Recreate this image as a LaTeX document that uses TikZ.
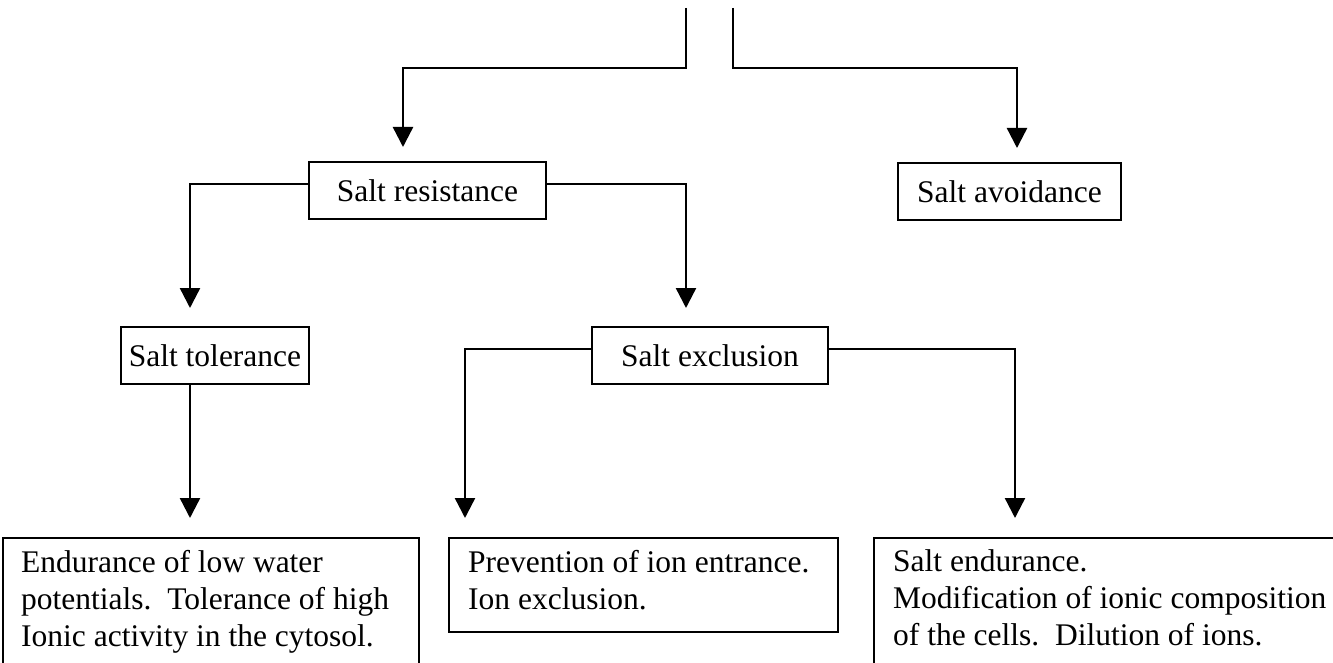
\documentclass[tikz,border=0pt]{standalone}
\usepackage{fontspec}
\setmainfont{Liberation Serif}
\usetikzlibrary{arrows.meta}
\begin{document}
\begin{tikzpicture}[x=1pt,y=-1pt,
  txt/.style={font=\fontsize{31.5}{37}\selectfont},
  box/.style={draw,line width=2pt,inner sep=0pt,anchor=north west,txt},
  para/.style={inner sep=0pt,anchor=base west,align=left,txt},
  conn/.style={line width=2.4pt},
  arr/.style={conn,-{Triangle[width=20pt,length=20pt]}}]
\clip (0,0) rectangle (1333,663);
\fill[white] (0,0) rectangle (1333,663);
% boxes
\node[box,minimum width=237pt,minimum height=57pt] (res) at (308,161) {Salt resistance};
\node[box,minimum width=223pt,minimum height=57pt] (avoid) at (897,162) {Salt avoidance};
\node[box,minimum width=188pt,minimum height=57pt] (tol) at (120,326) {Salt tolerance};
\node[box,minimum width=236pt,minimum height=57pt] (excl) at (591,326) {Salt exclusion};
\node[box,minimum width=416pt,minimum height=180pt] (b1) at (2,537) {};
\node[box,minimum width=389pt,minimum height=94pt] (b2) at (448,537) {};
\node[box,minimum width=500pt,minimum height=180pt] (b3) at (873,537) {};
\node[para] (t1) at (21,646) {Endurance of low water\\potentials.\ \ Tolerance of high\\Ionic activity in the cytosol.};
\node[para] (t2) at (468,609) {Prevention of ion entrance.\\Ion exclusion.};
\node[para] (t3) at (893,645) {Salt endurance.\\Modification of ionic composition\\of the cells.\ \ Dilution of ions.};
% connector points
\coordinate (s1) at (686,8);
\coordinate (s2) at (733,8);
\coordinate (ra) at (403,147);
\coordinate (aa) at (1017,148);
\coordinate (ta) at (190,308);
\coordinate (ea) at (686,308);
\coordinate (b1a) at (190,518);
\coordinate (b2a) at (465,518);
\coordinate (b3a) at (1015,518);
% connectors
\draw[arr] (s1) -- ++(0,60) -| (ra);
\draw[arr] (s2) -- ++(0,60) -| (aa);
\draw[arr] ([yshift=6.5pt]res.west) -| (ta);
\draw[arr] ([yshift=6.5pt]res.east) -| (ea);
\draw[arr] (tol.south -| ta) -- (b1a);
\draw[arr] ([yshift=6.5pt]excl.west) -| (b2a);
\draw[arr] ([yshift=6.5pt]excl.east) -| (b3a);
\end{tikzpicture}
\end{document}
